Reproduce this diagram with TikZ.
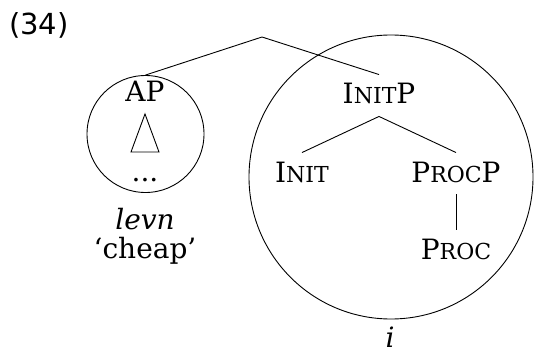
\documentclass[tikz,border=0pt]{standalone}
\usepackage{fontspec}
\setmainfont{DejaVu Serif}
\newfontfamily\numfont{DejaVu Sans}
\newcommand{\fsc}[1]{{\fontsize{11pt}{12pt}\selectfont #1}}
\begin{document}
\begin{tikzpicture}[x=0.5pt,y=-0.5pt,
  font=\fontsize{14pt}{16pt}\selectfont,
  line width=0.45pt,
  cat/.style={anchor=base, text height=10pt, text depth=1.5pt, inner xsep=0pt, inner ysep=4.5pt},
  plain/.style={anchor=base, inner sep=0pt},
  ring/.style={circle, draw, inner sep=0pt}]
\useasboundingbox (0,0) rectangle (534,353);
\node[plain] (num) at (39,35) {\numfont\fontsize{14.5pt}{16pt}\selectfont (34)};
\coordinate (apex) at (262,37);
% left circle
\node[ring, minimum size=58.5pt] (apc) at (145.5,134) {};
\node[cat] (ap) at (145,101) {AP};
\draw (145,114) -- (131,152) -- (159,152) -- cycle;
\node[plain] (dots) at (145,181) {...};
\node[plain] (levn) at (145,229) {\itshape levn};
\node[plain] (cheap) at (145,258) {‘cheap’};
% right circle
\node[ring, minimum size=142pt] (bigc) at (391,177) {};
\node[cat] (initp) at (379,104) {I\fsc{NIT}P};
\node[cat] (init) at (302,182) {I\fsc{NIT}};
\node[cat] (procp) at (456,182) {P\fsc{ROC}P};
\node[cat] (proc) at (456,259) {P\fsc{ROC}};
\node[plain] (ilab) at (390,347) {\itshape i};
% connectors
\draw (apc.north) -- (apex) -- (initp.north);
\draw (init.north) -- (initp.south) -- (procp.north);
\draw (procp.south) -- (proc.north);
\end{tikzpicture}
\end{document}
